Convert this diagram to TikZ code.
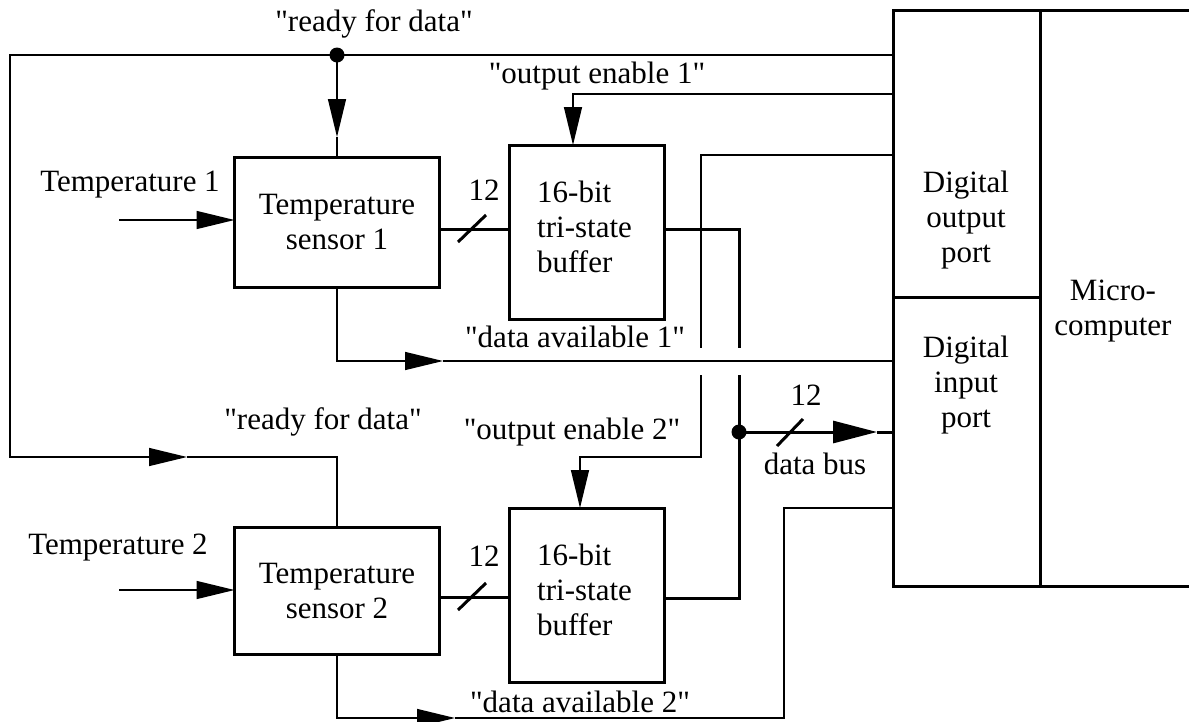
\documentclass[tikz,border=0pt]{standalone}
\usepackage{fontspec}
\setmainfont{Liberation Serif}[Ligatures=TeXOff]
\usetikzlibrary{arrows.meta}
\begin{document}
\begin{tikzpicture}[x=1pt,y=-1pt,
  every node/.style={font=\fontsize{31}{35}\selectfont, inner sep=0pt, align=center},
  sig/.style={line width=1.5pt},
  bus/.style={line width=3pt},
  blk/.style={draw, line width=3pt, outer sep=0pt},
  tipthin/.tip={Triangle[length=38pt,width=18pt]},
  tipbus/.tip={Triangle[length=44pt,width=22pt]},
  jdot/.style={circle, fill, minimum size=15pt, inner sep=0pt}]
\useasboundingbox (0,0) rectangle (1189,721);

% functional blocks
\node[blk, minimum width=205pt, minimum height=130pt] (s1) at (337,222) {Temperature\\sensor 1};
\node[blk, minimum width=205pt, minimum height=127pt] (s2) at (337,590.5) {Temperature\\sensor 2};
\node[blk, minimum width=155pt, minimum height=174pt] (b1) at (586.5,232) {};
\node[blk, minimum width=155pt, minimum height=174pt] (b2) at (586.5,595) {};
\node[align=left, anchor=west] (b1t) at (537,227) {16-bit\\tri-state\\buffer};
\node[align=left, anchor=west] (b2t) at (537,590) {16-bit\\tri-state\\buffer};

% microcomputer with its ports
\node[blk, minimum width=147pt, minimum height=287pt] (outport) at (966.5,153.5) {};
\node[blk, minimum width=147pt, minimum height=289pt] (inport) at (966.5,441.5) {};
\node (outt) at (966,220) {Digital\\output\\port};
\node (int) at (966,385) {Digital\\input\\port};
\node (micro) at (1113,311) {Micro-\\computer};
\draw[line width=3pt] (outport.north east) -- (outport.north east -| 1189,0);
\draw[line width=3pt] (inport.south east) -- (inport.south east -| 1189,0);

% "ready for data" line
\coordinate (rd) at (337,55);
\coordinate (rdA) at (337,137);
\coordinate (rdL) at (10,55);
\coordinate (rdLo) at (10,457);
\coordinate (rdB) at (187,457);
\coordinate (rd2) at (337,457);
\draw[sig] (outport.west |- rd) -- (rd);
\draw[sig,-tipthin] (rd) -- (rdA);
\draw[sig] (rdA) -- (s1.north);
\draw[sig,-tipthin] (rd) -- (rdL) -- (rdLo) -- (rdB);
\draw[sig] (rdB) -- (rd2) -- (s2.north);
\node[jdot] (rddot) at (rd) {};

% temperature inputs
\coordinate (t1in) at (119,220);
\coordinate (t2in) at (119,590);
\draw[sig,-tipthin] (t1in) -- (t1in -| s1.west);
\draw[sig,-tipthin] (t2in) -- (t2in -| s2.west);

% sensor to buffer, 12 lines
\coordinate (bus1) at (472,229);
\coordinate (bus2) at (472,597);
\draw[bus] (bus1 -| s1.east) -- (bus1 -| b1.west);
\draw[bus] (bus2 -| s2.east) -- (bus2 -| b2.west);
\draw[bus] (bus1) ++(-14,13) -- ++(28,-27);
\draw[bus] (bus2) ++(-14,13) -- ++(28,-27);

% buffer outputs onto the data bus
\coordinate (b1o) at (739,229);
\coordinate (gapA) at (739,348);
\coordinate (gapB) at (739,375);
\coordinate (b2o) at (739,598);
\coordinate (jb) at (739,432);
\coordinate (dbA) at (877,432);
\coordinate (dbs) at (790,432);
\draw[bus] (b1o -| b1.east) -- (b1o) -- (gapA);
\draw[bus] (gapB) -- (b2o) -- (b2o -| b2.east);
\draw[bus,-tipbus] (jb) -- (dbA);
\draw[bus] (dbA) -- (dbA -| inport.west);
\draw[bus] (dbs) ++(-13,14) -- ++(26,-27);
\node[jdot] (jbdot) at (jb) {};

% output enable lines
\coordinate (oe1) at (573,94);
\draw[sig,-tipthin] (outport.west |- oe1) -- (oe1) -- (oe1 |- b1.north);
\coordinate (oe2a) at (701,155);
\coordinate (oe2b) at (701,348);
\coordinate (oe2c) at (701,375);
\coordinate (oe2d) at (701,457);
\coordinate (oe2e) at (580,457);
\draw[sig] (outport.west |- oe2a) -- (oe2a) -- (oe2b);
\draw[sig,-tipthin] (oe2c) -- (oe2d) -- (oe2e) -- (oe2e |- b2.north);

% data available lines
\coordinate (da1) at (337,361);
\coordinate (da1A) at (443,361);
\draw[sig,-tipthin] (s1.south) -- (da1) -- (da1A);
\draw[sig] (da1A) -- (da1A -| inport.west);
\coordinate (da2) at (337,718);
\coordinate (da2A) at (455,718);
\coordinate (da2b) at (784,718);
\coordinate (da2c) at (784,508);
\draw[sig,-tipthin] (s2.south) -- (da2) -- (da2A);
\draw[sig] (da2A) -- (da2b) -- (da2c) -- (da2c -| inport.west);

% labels
\node (lrd1) at (374,24) {"ready for data"};
\node (lrd2) at (323,422) {"ready for data"};
\node (loe1) at (597,76) {"output enable 1"};
\node (loe2) at (572,432) {"output enable 2"};
\node (lda1) at (575,337) {"data available 1"};
\node (lda2) at (580,702) {"data available 2"};
\node (lt1) at (130,185) {Temperature 1};
\node (lt2) at (118,548) {Temperature 2};
\node (n12a) at (484,190) {12};
\node (n12b) at (484,556) {12};
\node (n12c) at (806,395) {12};
\node (ldb) at (815,464) {data bus};
\end{tikzpicture}
\end{document}
